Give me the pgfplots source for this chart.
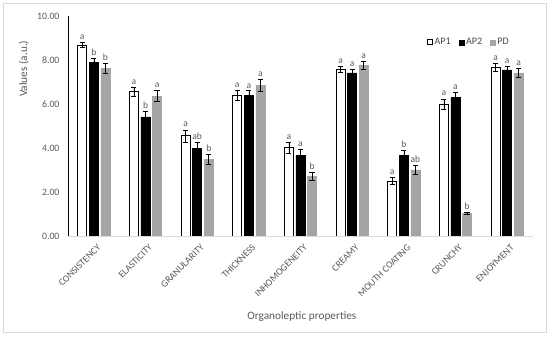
\documentclass[border=0pt]{standalone}
\usepackage{fontspec}
\setmainfont{Carlito}
\usepackage{pgfplots}
\usepackage{pgfplotstable}
\pgfplotsset{compat=1.18}
\definecolor{txt}{HTML}{595959}
\definecolor{pdgray}{HTML}{A5A5A5}
\definecolor{frm}{HTML}{D9D9D9}

\pgfplotstableread{
x y e l
0 8.68 0.11 a
1 6.55 0.22 a
2 4.55 0.27 a
3 6.39 0.24 a
4 4.01 0.24 a
5 7.58 0.14 a
6 2.50 0.16 a
7 6.00 0.23 a
8 7.67 0.18 a
}\apone
\pgfplotstableread{
x y e l
0 7.88 0.20 b
1 5.42 0.26 b
2 3.98 0.26 ab
3 6.39 0.21 a
4 3.68 0.27 a
5 7.42 0.17 a
6 3.65 0.24 b
7 6.29 0.23 a
8 7.55 0.17 a
}\aptwo
\pgfplotstableread{
x y e l
0 7.62 0.22 b
1 6.36 0.25 a
2 3.48 0.23 b
3 6.86 0.27 a
4 2.70 0.18 b
5 7.76 0.20 a
6 3.00 0.20 ab
7 1.03 0.03 b
8 7.42 0.20 a
}\pd

\begin{document}
\begin{tikzpicture}
\useasboundingbox (-68pt,-101pt) rectangle (482pt,236pt);
\draw[frm, line width=0.8pt] (-65pt,-96pt) rectangle (478pt,233pt);
\begin{axis}[
  scale only axis,
  width=465pt, height=220pt,
  ybar=2.6pt,
  bar width=9pt,
  xmin=-0.5, xmax=8.5,
  ymin=0, ymax=10,
  axis x line*=bottom,
  axis y line*=left,
  axis line style={-},
  x axis line style={draw=frm, line width=0.8pt},
  y axis line style={draw=black, line width=0.7pt},
  major tick length=0pt,
  xtick=data,
  xticklabels={CONSISTENCY,ELASTICITY,GRANULARITY,THICKNESS,INHOMOGENEITY,CREAMY,MOUTH COATING,CRUNCHY,ENJOYMENT},
  xticklabel style={rotate=45, anchor=north east, font=\fontsize{9.7}{11}\selectfont, text=txt, yshift=-4pt},
  ytick={0,2,4,6,8,10},
  yticklabel style={font=\fontsize{9.8}{11}\selectfont, text=txt, xshift=-5pt},
  /pgf/number format/assume math mode=true,
  yticklabel={\pgfmathprintnumber[fixed, fixed zerofill, precision=2]{\tick}},
  xlabel={Organoleptic properties},
  ylabel={Values (a.u.)},
  xlabel style={font=\fontsize{11.3}{13}\selectfont, text=txt, at={(axis description cs:0.503,-0.364)}, anchor=center},
  ylabel style={font=\fontsize{11.3}{13}\selectfont, text=txt, at={(axis description cs:-0.095,0.76)}, anchor=center},
  legend style={draw=none, fill=none, legend columns=3, font=\fontsize{10}{12}\selectfont, text=txt!80!black,
    at={(0.862,0.88)}, anchor=center,
    /tikz/every even column/.append style={column sep=6pt},
    legend cell align=left},
  legend image code/.code={\draw[#1] (0pt,-2.5pt) rectangle (5pt,2.5pt);},
  error bars/y dir=both,
  error bars/y explicit,
  error bars/error bar style={black, line width=0.6pt},
  error bars/error mark options={rotate=90, black, mark size=2.6pt, line width=0.6pt},
  point meta=explicit symbolic,
  nodes near coords={\pgfplotspointmeta},
  visualization depends on={\thisrow{e} \as \err},
  every node near coord/.append style={font=\fontsize{9.5}{10}\selectfont, text=txt, yshift=\err*22pt, inner sep=2.5pt},
]
\addplot[draw=black, fill=white, line width=0.8pt] table[x=x, y=y, y error=e, meta=l] {\apone};
\addplot[draw=black, fill=black] table[x=x, y=y, y error=e, meta=l] {\aptwo};
\addplot[draw=pdgray, fill=pdgray] table[x=x, y=y, y error=e, meta=l] {\pd};
\legend{AP1, AP2, PD}
\end{axis}
\end{tikzpicture}
\end{document}
